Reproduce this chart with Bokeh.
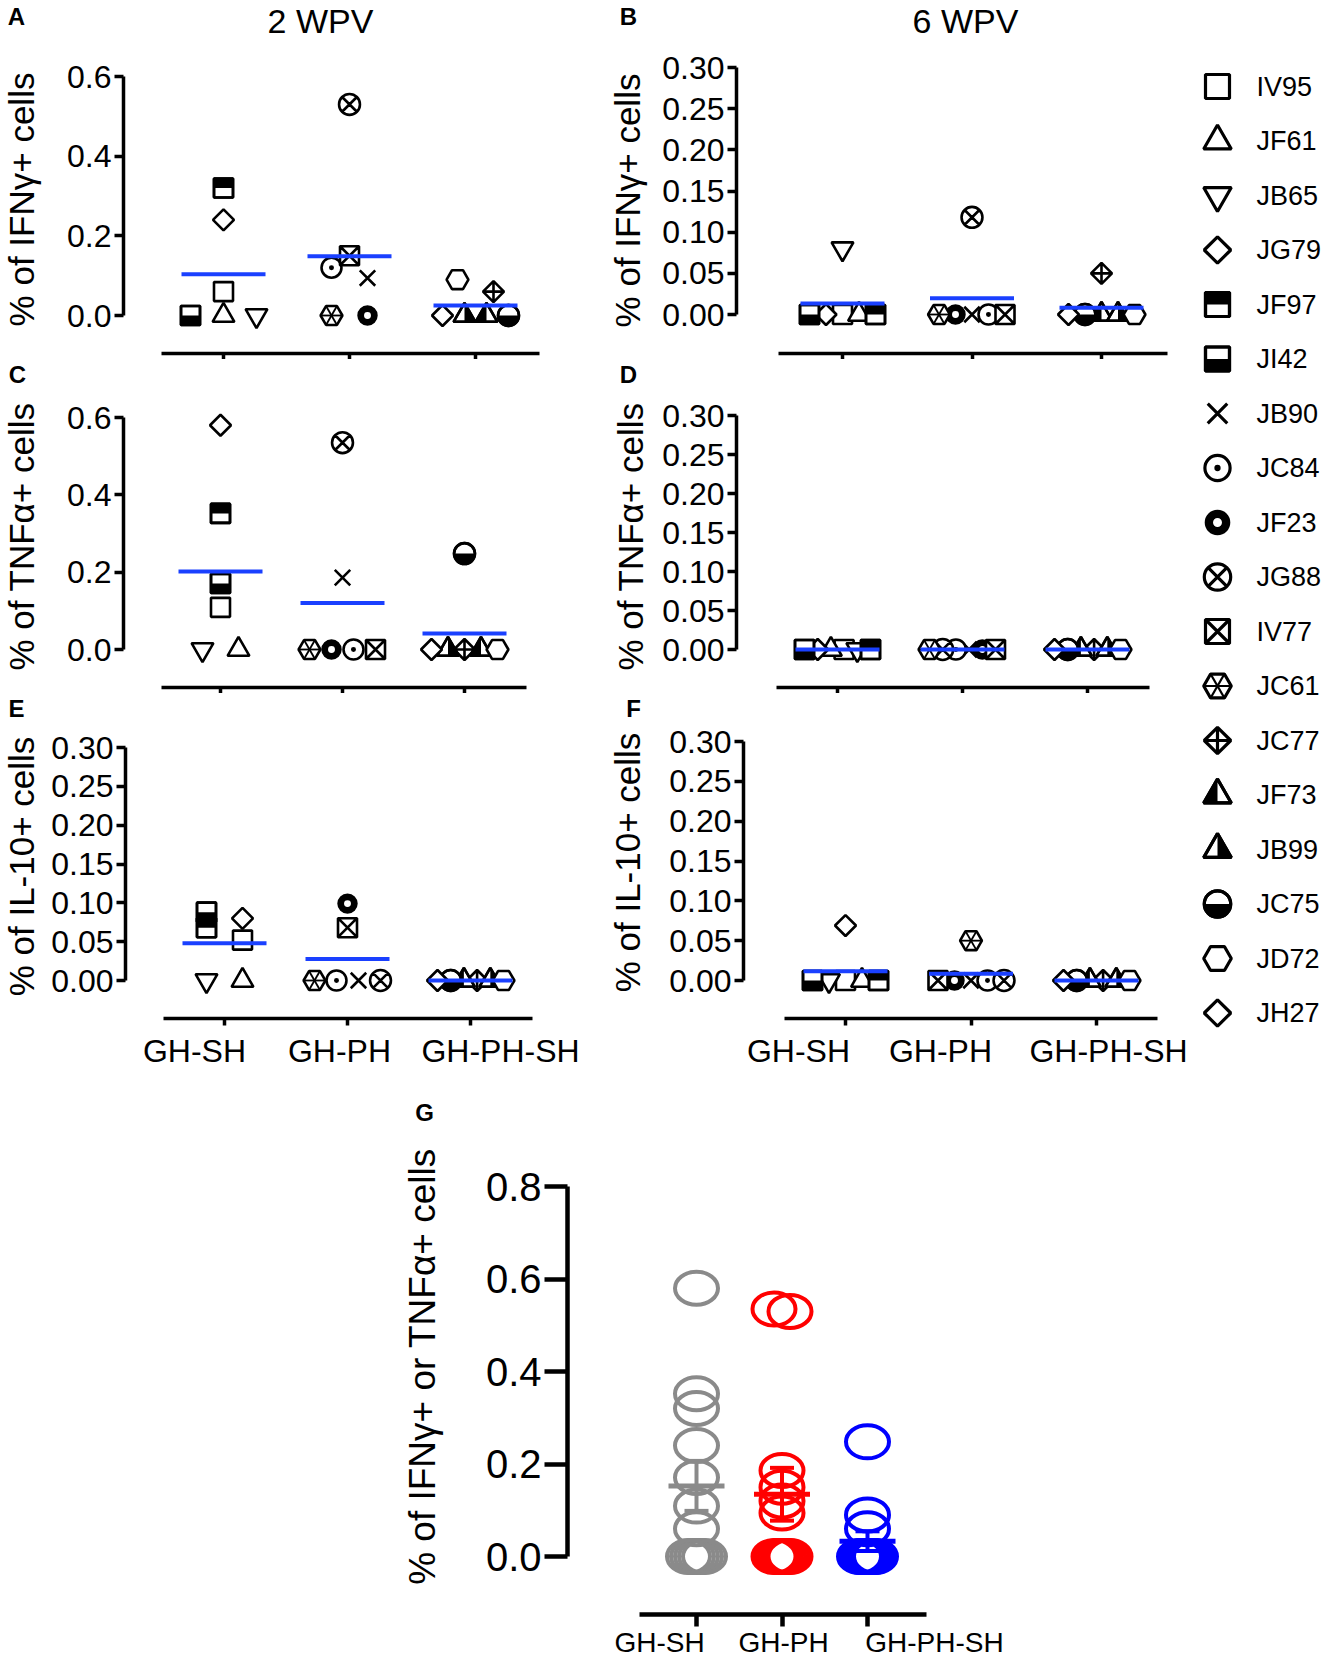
import numpy as np
from bokeh.plotting import figure
from bokeh.models import Range1d, FixedTicker, PrintfTickFormatter, LinearAxis
from bokeh.layouts import row, column
from bokeh.embed import file_html
from bokeh.resources import INLINE
from bokeh.core.properties import value

FONT = "Liberation Sans"
BLUE_LINE = "#1a40ff"

# ---------------- data ----------------
groups = ["GH-SH", "GH-PH", "GH-PH-SH"]
animals = ["IV95", "JF61", "JB65", "JG79", "JF97", "JI42",
           "JB90", "JC84", "JF23", "JG88", "IV77", "JC61",
           "JC77", "JF73", "JB99", "JC75", "JD72", "JH27"]
animal_group = ["GH-SH"] * 6 + ["GH-PH"] * 6 + ["GH-PH-SH"] * 6
animal_marker = ["square", "triangle", "inverted_triangle", "diamond", "square_top_half", "square_bottom_half",
                 "x", "circle_dot", "circle_thick", "circle_x", "square_x", "hex_spokes",
                 "diamond_cross", "triangle_left_half", "triangle_right_half", "circle_bottom_half", "hex", "diamond"]

ifng_2wpv = [0.06, 0.0, 0.0, 0.24, 0.32, 0.0,
             0.094, 0.12, 0.0, 0.53, 0.15, 0.0,
             0.06, 0.0, 0.0, 0.0, 0.09, 0.0]
ifng_6wpv = [0.0, 0.0, 0.08, 0.0, 0.0, 0.0,
             0.0, 0.0, 0.0, 0.118, 0.0, 0.0,
             0.05, 0.0, 0.0, 0.0, 0.0, 0.0]
tnfa_2wpv = [0.109, 0.0, 0.0, 0.58, 0.352, 0.171,
             0.186, 0.0, 0.0, 0.535, 0.0, 0.0,
             0.0, 0.0, 0.0, 0.248, 0.0, 0.0]
tnfa_6wpv = [0.0, 0.0, 0.0, 0.0, 0.0, 0.0,
             0.0, 0.0, 0.0, 0.0, 0.0, 0.0,
             0.0, 0.0, 0.0, 0.0, 0.0, 0.0]
il10_2wpv = [0.052, 0.0, 0.0, 0.08, 0.068, 0.088,
             0.0, 0.0, 0.099, 0.0, 0.068, 0.0,
             0.0, 0.0, 0.0, 0.0, 0.0, 0.0]
il10_6wpv = [0.0, 0.0, 0.0, 0.069, 0.0, 0.0,
             0.0, 0.0, 0.0, 0.0, 0.0, 0.05,
             0.0, 0.0, 0.0, 0.0, 0.0, 0.0]

yticks_06 = [0.0, 0.2, 0.4, 0.6]
yticks_030 = [0.0, 0.05, 0.10, 0.15, 0.20, 0.25, 0.30]
yticks_08 = [0.0, 0.2, 0.4, 0.6, 0.8]
g_colors = ["#8a8a8a", "#ff0000", "#0000ff"]

ylab_ifng = "% of IFNγ+ cells"
ylab_tnfa = "% of TNFα+ cells"
ylab_il10 = "% of IL-10+ cells"
ylab_g = "% of IFNγ+ or TNFα+ cells"
titles = ["2 WPV", "6 WPV"]
letters = ["A", "B", "C", "D", "E", "F", "G"]


# ---------------- geometry (page pixels) ----------------
class Geo:
    """Figure canvas == plot frame; data <-> page-pixel mapping of one panel."""

    def __init__(self, fig, yscale, xscale):
        fx, fy, fw, fh = fig
        ytop, ytop_px, y0_px = yscale
        tick0, step = xscale
        self.ky = ytop / (y0_px - ytop_px)
        self.kx = 1.0 / step
        self.y0_px = y0_px
        self.tick0 = tick0
        self.ytop = ytop
        self.size = (fw, fh)
        self.x_range = (self.dx(fx), self.dx(fx + fw))
        self.y_range = (self.dy(fy + fh), self.dy(fy))

    def dx(self, px):
        return (px - self.tick0) * self.kx

    def dy(self, py):
        return (self.y0_px - py) * self.ky


def make_fig(geo):
    p = figure(width=geo.size[0], height=geo.size[1],
               x_range=Range1d(*geo.x_range), y_range=Range1d(*geo.y_range),
               x_axis_type=None, y_axis_type=None, title=None,
               toolbar_location=None, output_backend="svg", min_border=0)
    p.outline_line_color = None
    p.background_fill_color = "white"
    p.border_fill_color = "white"
    return p


def add_text(p, geo, text, px, py, size, bold=False, angle=0.0):
    p.text(x=[geo.dx(px)], y=[geo.dy(py)], text=[text], angle=angle,
           text_font=value(FONT), text_font_size=f"{size}px",
           text_font_style="bold" if bold else "normal",
           text_align="center", text_baseline="middle", text_color="black")


def add_yaxis(p, geo, axis_px, ticks, fmt, font_size="32px", tick_out=9, lw=3.5):
    ax = LinearAxis(fixed_location=geo.dx(axis_px),
                    ticker=FixedTicker(ticks=ticks, minor_ticks=[]),
                    formatter=PrintfTickFormatter(format=fmt),
                    bounds=(0, geo.ytop), axis_line_width=lw, axis_line_color="black",
                    major_tick_line_width=lw, major_tick_line_color="black",
                    major_tick_out=tick_out, major_tick_in=0,
                    minor_tick_out=0, minor_tick_in=0, minor_tick_line_color=None,
                    major_label_standoff=3, major_label_text_font=FONT,
                    major_label_text_font_size=font_size, major_label_text_color="black")
    p.add_layout(ax, "left")


def add_xaxis(p, geo, axis_py, x0_px, x1_px, label_px=None, font_size="32px", standoff=7,
              tick_out=7, lw=3.5):
    cats = [float(i) for i in range(len(groups))]
    if label_px:
        pos = [round(geo.dx(v), 4) for v in label_px]
        overrides = {pos[i]: groups[i] for i in range(len(groups))}
    else:
        pos = []
        overrides = {}
    ax = LinearAxis(fixed_location=geo.dy(axis_py),
                    ticker=FixedTicker(ticks=pos, minor_ticks=cats),
                    bounds=(geo.dx(x0_px), geo.dx(x1_px)),
                    axis_line_width=lw, axis_line_color="black",
                    major_tick_out=0, major_tick_in=0, major_tick_line_color=None,
                    minor_tick_out=tick_out, minor_tick_in=0, minor_tick_line_width=lw,
                    minor_tick_line_color="black",
                    major_label_overrides=overrides, major_label_standoff=standoff,
                    major_label_text_font=FONT, major_label_text_font_size=font_size,
                    major_label_text_color="black")
    p.add_layout(ax, "below")


def swarm(vpx, thresh, S, W):
    """Rows of nearly equal values are spread symmetrically, first member in the centre."""
    n = len(vpx)
    order = sorted(range(n), key=lambda i: (vpx[i], i))
    offs = [0.0] * n
    k = 0
    while k < n:
        first = order[k]
        members = [first]
        j = k + 1
        while j < n and vpx[order[j]] - vpx[first] < thresh:
            members.append(order[j])
            j += 1
        m = len(members)
        if m > 1:
            sp = min(S, W / (m - 1))
            slots = [(r - (m - 1) / 2.0) * sp for r in range(m)]
            slots.sort(key=lambda q: (abs(q), -q))
            for i, q in zip(sorted(members), slots):
                offs[i] = q
        k = j
    return offs


def draw_marker(p, kind, xs, ys, s, lw, kx, ky):
    if not xs:
        return
    xs = list(xs)
    ys = list(ys)

    def sc(marker, size, angle=0.0, fill="white", width=lw):
        p.scatter(x=xs, y=ys, marker=marker, size=size, angle=angle,
                  fill_color=fill, line_color="black", line_width=width)

    if kind == "square":
        sc("square", s)
    elif kind == "triangle":
        sc("triangle", s * 1.15)
    elif kind == "inverted_triangle":
        sc("inverted_triangle", s * 1.15)
    elif kind == "diamond":
        sc("square", s * 0.78, angle=np.pi / 4)
    elif kind == "diamond_cross":
        sc("square_x", s * 0.78, angle=np.pi / 4)
    elif kind in ("square_top_half", "square_bottom_half"):
        sc("square", s)
        sign = 1.0 if kind == "square_top_half" else -1.0
        p.rect(x=xs, y=[y + sign * (s / 4.0) * ky for y in ys], width=s, height=s / 2.0,
               width_units="screen", height_units="screen", fill_color="black", line_color=None)
        sc("square", s, fill=None)
    elif kind == "x":
        sc("x", s * 1.15)
    elif kind == "circle_dot":
        sc("circle_dot", s * 1.05)
    elif kind == "circle_thick":
        sc("circle", s * 0.72, width=lw * 2.6)
    elif kind == "circle_x":
        sc("circle_x", s * 1.1)
    elif kind == "square_x":
        sc("square_x", s)
    elif kind == "hex":
        sc("hex", s * 1.15)
    elif kind == "hex_spokes":
        sc("hex", s * 1.15)
        for a in (0.0, np.pi / 3, 2 * np.pi / 3):
            p.scatter(x=xs, y=ys, marker="dash", size=s * 1.15, angle=a,
                      line_color="black", line_width=lw * 0.7)
    elif kind in ("triangle_left_half", "triangle_right_half"):
        S = s * 1.15
        sc("triangle", S)
        r = S / 2.0
        h = r * np.sqrt(3)
        if kind == "triangle_left_half":
            poly = [(0, 2 * h / 3), (-r, -h / 3), (0, -h / 3)]
        else:
            poly = [(0, 2 * h / 3), (0, -h / 3), (r, -h / 3)]
        p.patches(xs=[[x + ddx * kx for ddx, ddy in poly] for x, y in zip(xs, ys)],
                  ys=[[y + ddy * ky for ddx, ddy in poly] for x, y in zip(xs, ys)],
                  fill_color="black", line_color=None)
        sc("triangle", S, fill=None)
    elif kind == "circle_bottom_half":
        S = s * 1.1
        sc("circle", S)
        p.wedge(x=xs, y=ys, radius=S / 2.0, radius_units="screen",
                start_angle=np.pi, end_angle=2 * np.pi, fill_color="black", line_color=None)
        sc("circle", S, fill=None)


def draw_panel_points(p, geo, vals, s=19, lw=2.6):
    pts = {a: ([], []) for a in animals}
    means = []
    for gi, gname in enumerate(groups):
        idx = [i for i in range(len(animals)) if animal_group[i] == gname]
        v = [vals[i] for i in idx]
        offs = swarm([x / geo.ky for x in v], 20, 36, 66)
        for i, o in zip(idx, offs):
            pts[animals[i]][0].append(gi + o * geo.kx)
            pts[animals[i]][1].append(vals[i])
        means.append(float(np.mean(v)))
    for i, a in enumerate(animals):
        draw_marker(p, animal_marker[i], pts[a][0], pts[a][1], s, lw, geo.kx, geo.ky)
    hw = 42 * geo.kx
    cats = np.arange(len(groups), dtype=float)
    p.segment(x0=list(cats - hw), x1=list(cats + hw), y0=means, y1=means,
              line_color=BLUE_LINE, line_width=4)


# panel layout in page pixels: figure box, y scale (top value, its px, px of 0),
# category ticks (first px, step), y-axis px, x-axis (py, from px, to px), texts
PANELS = {
    "A": dict(fig=(0, 0, 580, 359), ys=(0.6, 76, 315), xs=(223, 126), yax=123, xax=(353, 161, 539),
              vals=ifng_2wpv, yt=yticks_06, fmt="%.1f", ylab=ylab_ifng, ylab_at=(21, 199),
              texts=[(letters[0], 16, 16, 24, True), (titles[0], 320, 20, 34, False)]),
    "B": dict(fig=(580, 0, 610, 359), ys=(0.30, 67, 314), xs=(842, 129.5), yax=736, xax=(353, 778, 1167),
              vals=ifng_6wpv, yt=yticks_030, fmt="%.2f", ylab=ylab_ifng, ylab_at=(627, 200),
              texts=[(letters[1], 628, 16, 24, True), (titles[1], 965, 20, 34, False)]),
    "C": dict(fig=(0, 359, 580, 334), ys=(0.6, 417, 649), xs=(220, 122), yax=123, xax=(687, 161, 526),
              vals=tnfa_2wpv, yt=yticks_06, fmt="%.1f", ylab=ylab_tnfa, ylab_at=(21, 536),
              texts=[(letters[2], 17, 374, 24, True)]),
    "D": dict(fig=(580, 359, 610, 334), ys=(0.30, 415, 649), xs=(837, 125), yax=736, xax=(687, 776, 1149),
              vals=tnfa_6wpv, yt=yticks_030, fmt="%.2f", ylab=ylab_tnfa, ylab_at=(630, 536),
              texts=[(letters[3], 628, 374, 24, True)]),
    "E": dict(fig=(0, 693, 580, 382), ys=(0.30, 747, 980), xs=(224, 123), yax=125, xax=(1018, 163, 532),
              vals=il10_2wpv, yt=yticks_030, fmt="%.2f", ylab=ylab_il10, ylab_at=(21, 866),
              texts=[(letters[4], 16, 708, 24, True)], labels=[194, 339, 500]),
    "F": dict(fig=(580, 693, 610, 382), ys=(0.30, 741, 980), xs=(845, 125.5), yax=743, xax=(1018, 784, 1157),
              vals=il10_6wpv, yt=yticks_030, fmt="%.2f", ylab=ylab_il10, ylab_at=(627, 862),
              texts=[(letters[5], 633, 708, 24, True)], labels=[798, 940, 1108]),
}


def build_panel(spec):
    geo = Geo(spec["fig"], spec["ys"], spec["xs"])
    p = make_fig(geo)
    draw_panel_points(p, geo, spec["vals"])
    add_yaxis(p, geo, spec["yax"], spec["yt"], spec["fmt"])
    py, x0, x1 = spec["xax"]
    add_xaxis(p, geo, py, x0, x1, label_px=spec.get("labels"))
    add_text(p, geo, spec["ylab"], spec["ylab_at"][0], spec["ylab_at"][1], 35, angle=np.pi / 2)
    for t in spec["texts"]:
        add_text(p, geo, *t)
    return p


figs = {k: build_panel(v) for k, v in PANELS.items()}

# ---------------- panel G ----------------
gG = Geo((0, 1075, 1324, 584), (0.8, 1186, 1556), (696, 85.5))
pG = make_fig(gG)
for gi, gname in enumerate(groups):
    idx = [i for i in range(len(animals)) if animal_group[i] == gname]
    v = [ifng_2wpv[i] for i in idx] + [tnfa_2wpv[i] for i in idx]
    offs = swarm([x / gG.ky for x in v], 6, 16, 16)
    xs = [gi + o * gG.kx for o in offs]
    c = g_colors[gi]
    pG.ellipse(x=xs, y=v, width=43, height=33, width_units="screen", height_units="screen",
               fill_color=None, line_color=c, line_width=4)
    m = float(np.mean(v))
    se = float(np.std(v, ddof=1) / np.sqrt(len(v)))
    pG.segment(x0=[gi - 28 * gG.kx], x1=[gi + 28 * gG.kx], y0=[m], y1=[m], line_color=c, line_width=5)
    pG.segment(x0=[gi], x1=[gi], y0=[m - se], y1=[m + se], line_color=c, line_width=4)
    pG.segment(x0=[gi - 12 * gG.kx] * 2, x1=[gi + 12 * gG.kx] * 2, y0=[m - se, m + se], y1=[m - se, m + se],
               line_color=c, line_width=4)
add_yaxis(pG, gG, 567, yticks_08, "%.1f", font_size="40px", tick_out=23, lw=4.5)
add_xaxis(pG, gG, 1614, 639, 926, label_px=[659, 783, 934], font_size="28px", standoff=0,
          tick_out=12, lw=4.5)
add_text(pG, gG, letters[6], 424, 1112, 24, True)
add_text(pG, gG, ylab_g, 422, 1366, 37, angle=np.pi / 2)

# ---------------- legend ----------------
LX0, LY0, LW, LH = 1190, 0, 134, 1075
pL = figure(width=LW, height=LH, x_range=Range1d(LX0, LX0 + LW), y_range=Range1d(-(LY0 + LH), -LY0),
            x_axis_type=None, y_axis_type=None, title=None, toolbar_location=None,
            output_backend="svg", min_border=0)
pL.outline_line_color = None
leg_y0, leg_step = 86, 54.5
leg_ys = [-(leg_y0 + i * leg_step) for i in range(len(animals))]
for i, a in enumerate(animals):
    draw_marker(pL, animal_marker[i], [1217], [leg_ys[i]], 24, 3.2, 1.0, 1.0)
pL.text(x=[1256] * len(animals), y=leg_ys, text=animals, text_font=value(FONT),
        text_font_size="27px", text_baseline="middle", text_align="left", text_color="black")

col1 = column(figs["A"], figs["C"], figs["E"])
col2 = column(figs["B"], figs["D"], figs["F"])
layout = column(row(col1, col2, pL), pG)
open("out.html", "w").write(file_html(layout, INLINE))
